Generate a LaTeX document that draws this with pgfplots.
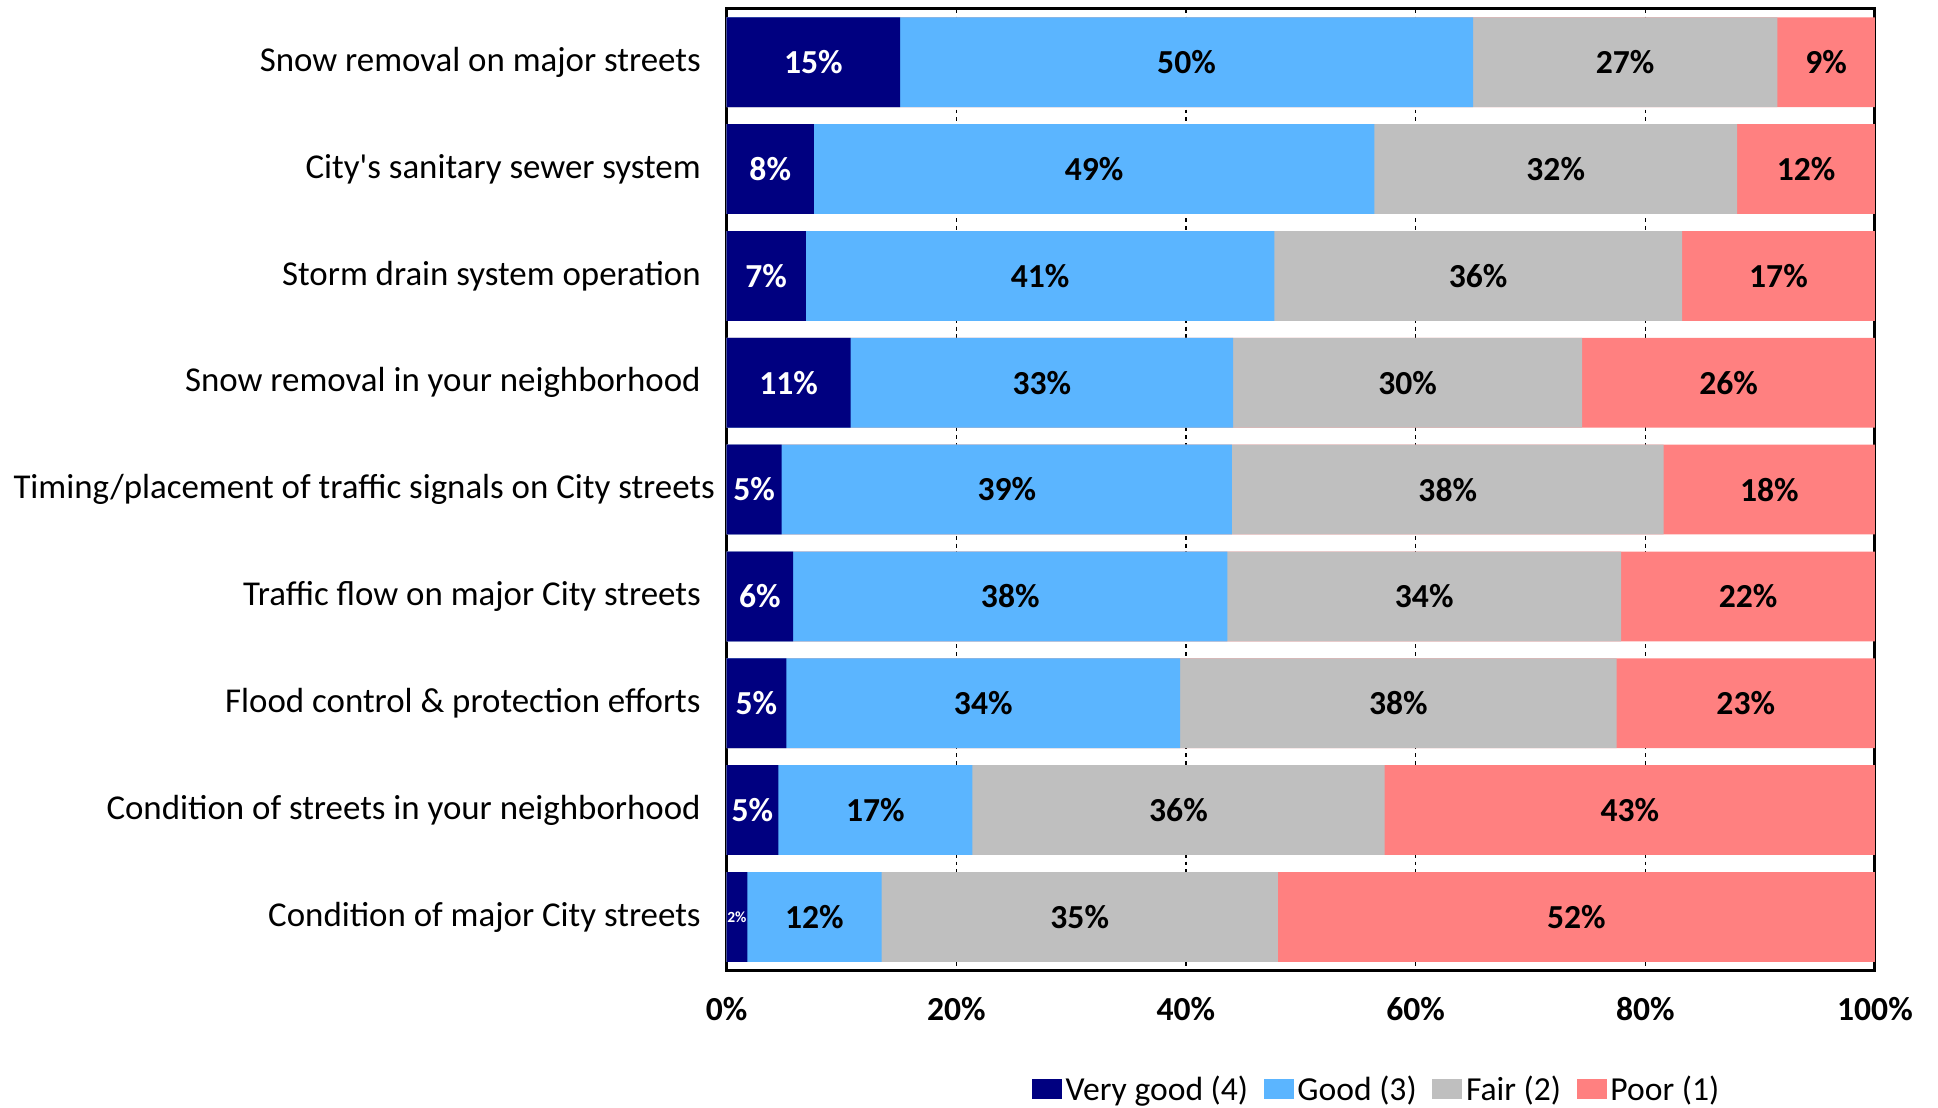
\documentclass[border=0pt]{standalone}
\usepackage{pgfplots}
\pgfplotsset{compat=1.18}
\usepackage{pgfplotstable}
\usepackage{fontspec}
\setmainfont{Carlito}
\definecolor{cVG}{RGB}{0,0,128}
\definecolor{cGood}{RGB}{91,181,255}
\definecolor{cFair}{RGB}{191,191,191}
\definecolor{cPoor}{RGB}{255,128,128}

% cumulative segment ends (%), b0 = 0 and b4 = 100, plus the printed labels
\pgfplotstableread{
row b0 b1   b2   b3   b4  vgl goodl fairl poorl vgfs
0   0  15.1 65.0 91.5 100 15  50    27    9     13
1   0  7.6  56.4 88.0 100 8   49    32    12    13
2   0  6.9  47.7 83.2 100 7   41    36    17    13
3   0  10.8 44.1 74.5 100 11  33    30    26    13
4   0  4.8  44.0 81.6 100 5   39    38    18    13
5   0  5.8  43.6 77.9 100 6   38    34    22    13
6   0  5.2  39.5 77.5 100 5   34    38    23    13
7   0  4.5  21.4 57.3 100 5   17    36    43    13
8   0  1.8  13.5 48.0 100 2   12    35    52    6
}\ratings

\begin{document}
\begin{tikzpicture}
\begin{axis}[
    name=ax,
    xbar, bar shift=0pt,
    scale only axis,
    width=444.4pt,
    height=372.1pt,
    bar width=0.84,
    xmin=0, xmax=100,
    ymin=-0.5, ymax=8.5,
    y dir=reverse,
    enlarge x limits=false,
    enlarge y limits=false,
    axis line style={black, line width=1.2pt},
    major tick length=0pt,
    xtick={0,20,40,60,80,100},
    xmajorgrids=true,
    grid style={black, line width=0.5pt, dash pattern=on 1.5pt off 1.5pt},
    xticklabel={\pgfmathprintnumber{\tick}\%},
    xticklabel style={font=\fontsize{13}{15}\selectfont\bfseries, yshift=-7pt},
    /pgf/number format/assume math mode=true,
    ytick={0,...,8},
    yticklabels={
        Snow removal on major streets,
        City\textquotesingle s sanitary sewer system,
        Storm drain system operation,
        Snow removal in your neighborhood,
        Timing/placement of traffic signals on City streets\kern-5.5pt,
        Traffic flow on major City streets,
        Flood control \& protection efforts,
        Condition of streets in your neighborhood,
        Condition of major City streets},
    yticklabel style={font=\fontsize{13.5}{15}\selectfont, xshift=-6.5pt},
    legend style={at={(0.5657,-0.1247)}, anchor=center, draw=none,
        inner sep=0pt, nodes={inner sep=0.5pt},
        font=\fontsize{13}{15}\selectfont,
        /tikz/every odd column/.append style={column sep=1pt},
        /tikz/every even column/.append style={column sep=5.5pt}},
    legend columns=4,
    reverse legend,
    legend image code/.code={\fill[#1] (0pt,-3.3pt) rectangle (11.6pt,4.4pt);},
    point meta=explicit,
    nodes near coords={\pgfmathprintnumber[precision=0]{\pgfplotspointmeta}\%},
    every node near coord/.append style={anchor=center,
        xshift={-\seglen*2.222pt}, font=\fontsize{13}{15}\selectfont\bfseries},
]
\addplot[fill=cPoor, draw=none, bar shift=0pt,
    visualization depends on={\thisrow{b4}-\thisrow{b3} \as \seglen}]
    table[x=b4, y=row, meta=poorl] {\ratings};
\addlegendentry{Poor (1)}
\addplot[fill=cFair, draw=none, bar shift=0pt,
    visualization depends on={\thisrow{b3}-\thisrow{b2} \as \seglen}]
    table[x=b3, y=row, meta=fairl] {\ratings};
\addlegendentry{Fair (2)}
\addplot[fill=cGood, draw=none, bar shift=0pt,
    visualization depends on={\thisrow{b2}-\thisrow{b1} \as \seglen}]
    table[x=b2, y=row, meta=goodl] {\ratings};
\addlegendentry{Good (3)}
\addplot[fill=cVG, draw=none, bar shift=0pt,
    visualization depends on={\thisrow{b1} \as \seglen},
    visualization depends on={\thisrow{vgfs} \as \vgfs},
    every node near coord/.append style={text=white,
        font=\fontsize{\vgfs}{\vgfs}\selectfont\bfseries}]
    table[x=b1, y=row, meta=vgl] {\ratings};
\addlegendentry{Very good (4)}
\end{axis}
\path (ax.south west) ++(-281.2pt,-53.1pt) rectangle ++(750pt,428.6pt);
\end{tikzpicture}
\end{document}
